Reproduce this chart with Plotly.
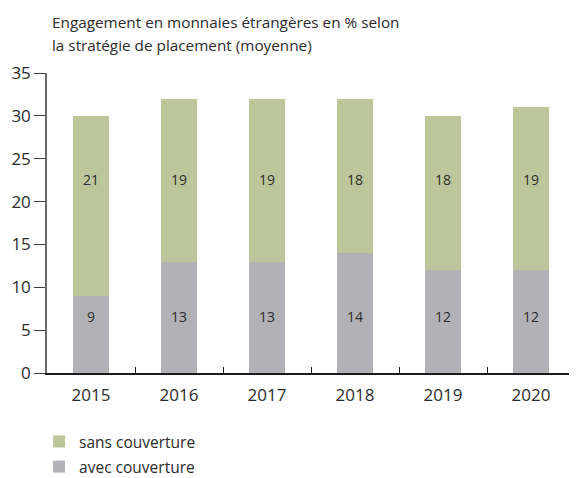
import plotly.graph_objects as go

years = ["2015", "2016", "2017", "2018", "2019", "2020"]
avec_couverture = [9, 13, 13, 14, 12, 12]
sans_couverture = [21, 19, 19, 18, 18, 19]
title_lines = ["Engagement en monnaies étrangères en % selon", "la stratégie de placement (moyenne)"]
y_ticks = [0, 5, 10, 15, 20, 25, 30, 35]

GREEN = "#bcc69a"
GREY = "#b2b2b6"
TXT = "#2b2b2b"
FONT = "Open Sans"
# value labels sit on two fixed rows in the reference
LABEL_ROW_LOW = 6.4
LABEL_ROW_HIGH = 22.3

# page has an 8px body margin, so the figure is sized 8px smaller
W, H = 569, 470

fig = go.Figure()
fig.add_trace(go.Bar(
    x=years, y=avec_couverture, name="avec couverture", legendgroup="a", legendrank=2,
    marker=dict(color=GREY, line=dict(width=0)),
))
fig.add_trace(go.Bar(
    x=years, y=sans_couverture, name="sans couverture", legendgroup="s", legendrank=1,
    marker=dict(color=GREEN, line=dict(width=0)),
))
fig.add_trace(go.Scatter(
    x=years, y=[LABEL_ROW_LOW] * len(years), mode="text",
    text=[str(v) for v in avec_couverture], textposition="middle center",
    textfont=dict(size=14, color=TXT, family=FONT),
    showlegend=False, hoverinfo="skip",
))
fig.add_trace(go.Scatter(
    x=years, y=[LABEL_ROW_HIGH] * len(years), mode="text",
    text=[str(v) for v in sans_couverture], textposition="middle center",
    textfont=dict(size=14, color=TXT, family=FONT),
    showlegend=False, hoverinfo="skip",
))

title_text = "<br>".join('<span style="font-size:15.3px">%s</span>' % t for t in title_lines)

fig.update_layout(
    width=W, height=H,
    barmode="stack", bargap=0.58,
    plot_bgcolor="white", paper_bgcolor="white",
    font=dict(family=FONT, color=TXT, size=15),
    margin=dict(l=39, r=2, t=65, b=105, autoexpand=False),
    title=dict(
        text=title_text,
        x=44/W, xref="container", xanchor="left",
        y=1 - 20/H, yref="container", yanchor="top",
        font=dict(size=17.7, color=TXT, family=FONT),
    ),
    legend=dict(
        traceorder="grouped",
        x=-0.015, xref="paper", xanchor="left",
        y=-0.173, yanchor="top",
        font=dict(size=15.5, color=TXT, family=FONT),
        tracegroupgap=2, itemwidth=30,
    ),
)
fig.update_xaxes(
    type="category", range=[-0.5, 5.5],
    showline=True, linecolor="#1a1a1a", linewidth=1.5,
    ticks="inside", tickson="boundaries", ticklen=6, tickcolor="#1a1a1a", tickwidth=1.2,
    tickfont=dict(size=17, color=TXT, family=FONT), ticklabelstandoff=6,
    showgrid=False, zeroline=False,
)
fig.update_yaxes(
    range=[0, 35], tickvals=y_ticks,
    showline=True, linecolor="#6a6a6a", linewidth=1.5,
    ticks="outside", ticklen=11, tickcolor="#3a3a3a", tickwidth=1.2,
    tickfont=dict(size=17, color=TXT, family=FONT),
    showgrid=False, zeroline=False,
)

fig.write_html("out.html")
